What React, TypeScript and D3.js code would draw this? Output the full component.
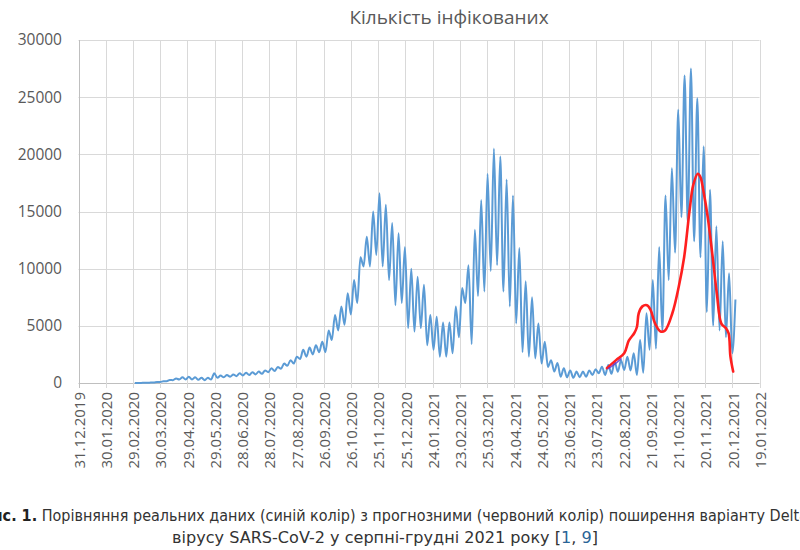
import React from 'react';
import * as d3 from 'd3';

// ---- Data -------------------------------------------------------------
const chartTitle = 'Кількість інфікованих';
const yTicks = [0, 5000, 10000, 15000, 20000, 25000, 30000];
const xTickLabels = [
  '31.12.2019', '30.01.2020', '29.02.2020', '30.03.2020', '29.04.2020', '29.05.2020',
  '28.06.2020', '28.07.2020', '27.08.2020', '26.09.2020', '26.10.2020', '25.11.2020',
  '25.12.2020', '24.01.2021', '23.02.2021', '25.03.2021', '24.04.2021', '24.05.2021',
  '23.06.2021', '23.07.2021', '22.08.2021', '21.09.2021', '21.10.2021', '20.11.2021',
  '20.12.2021', '19.01.2022',
];

// Real data (blue): weekly reporting cycle, one low (start of week) and one high per week
const firstWeek = '2020-03-02';
const weeklyLows = [
  0, 5, 20, 50, 90, 150, 250, 300, 300, 300,
  280, 250, 300, 450, 500, 550, 600, 650, 700, 750,
  800, 950, 1050, 1250, 1500, 1700, 2100, 2300, 2500, 2700,
  2700, 3760, 4600, 5100, 6000, 7000, 10200, 10200, 11200, 10200,
  9000, 6800, 7000, 4800, 4500, 4800, 3300, 2900, 2300, 2300,
  2600, 4000, 7000, 3400, 7600, 8000, 9800, 10300, 8000, 6700,
  5200, 2700, 2300, 2150, 1700, 1400, 1000, 550, 500, 450,
  500, 550, 700, 850, 700, 800, 990, 1140, 1100, 700,
  900, 2900, 3000, 4500, 9000, 11400, 14500, 14000, 12400, 11000,
  6200, 5000, 4600, 4000, 2600,
];
const weeklyHighs = [
  10, 20, 40, 90, 150, 260, 400, 500, 550, 500,
  450, 460, 850, 650, 700, 750, 850, 900, 950, 1000,
  1100, 1300, 1400, 1700, 2000, 2300, 2900, 3100, 3300, 3600,
  4600, 5950, 6700, 7850, 9000, 11000, 12800, 15000, 16600, 15600,
  14000, 13100, 11900, 10000, 9300, 8600, 5950, 5800, 5300, 5300,
  6700, 8300, 10300, 13400, 16000, 18300, 20500, 19800, 17800, 16400,
  11800, 8900, 7500, 5200, 3600, 2000, 1750, 1300, 1100, 1000,
  1000, 1100, 1200, 1430, 1570, 1860, 2000, 2300, 2600, 3760,
  6100, 9000, 11900, 16400, 18800, 23900, 26900, 27500, 24900, 20700,
  16900, 13700, 12400, 9600, 7300,
];

// Forecast (red)
const forecastDates = [
  '2021-08-04', '2021-08-14', '2021-08-23', '2021-08-28', '2021-09-03', '2021-09-06',
  '2021-09-08', '2021-09-12', '2021-09-17', '2021-09-21', '2021-09-26', '2021-10-02',
  '2021-10-07', '2021-10-15', '2021-10-22', '2021-10-28', '2021-11-03', '2021-11-07',
  '2021-11-12', '2021-11-15', '2021-11-18', '2021-11-23', '2021-11-28', '2021-12-03',
  '2021-12-08', '2021-12-13', '2021-12-16', '2021-12-18', '2021-12-21',
];
const forecastValues = [
  1300, 2000, 2600, 3700, 4350, 4900,
  6100, 6700, 6800, 6400, 5200, 4500,
  4600, 6100, 8400, 11000, 15100, 17300,
  18300, 18000, 16900, 14500, 11300, 7850,
  5200, 4800, 4350, 2300, 1000,
];

// short overlap segment (purple)
const overlapDates = ['2021-08-05', '2021-08-10', '2021-08-15', '2021-08-20'];
const overlapValues = [1250, 1500, 1800, 2150];

const captionLine1Bold = 'Рис. 1.';
const captionLine1 = ' Порівняння реальних даних (синій колір) з прогнозними (червоний колір) поширення варіанту Delta';
const captionLine2a = 'вірусу SARS-CoV-2 у серпні-грудні 2021 року [';
const captionRef1 = '1';
const captionRef2 = '9';

// ---- Component --------------------------------------------------------
const parseTick = d3.utcParse('%d.%m.%Y');
const parseIso = d3.utcParse('%Y-%m-%d');
const DAY = 86400000;

export default function App() {
  const W = 800, H = 550;
  const left = 78.5, right = 759.5, top = 40, bottom = 383;
  const tickDates = xTickLabels.map((s) => parseTick(s) as Date);

  const x = d3.scaleUtc().domain([tickDates[0], tickDates[tickDates.length - 1]]).range([left, right]);
  const y = d3.scaleLinear().domain([0, 30000]).range([bottom, top]);

  const start = (parseIso(firstWeek) as Date).getTime();
  const blue: [Date, number][] = [];
  weeklyLows.forEach((lo, i) => {
    blue.push([new Date(start + i * 7 * DAY), lo]);
    blue.push([new Date(start + (i * 7 + 3.5) * DAY), weeklyHighs[i]]);
  });
  const red: [Date, number][] = forecastDates.map((d, i) => [parseIso(d) as Date, forecastValues[i]]);
  const purple: [Date, number][] = overlapDates.map((d, i) => [parseIso(d) as Date, overlapValues[i]]);

  const line = d3
    .line<[Date, number]>()
    .x((d) => x(d[0]))
    .y((d) => y(d[1]))
    .curve(d3.curveMonotoneX);
  const smooth = d3
    .line<[Date, number]>()
    .x((d) => x(d[0]))
    .y((d) => y(d[1]))
    .curve(d3.curveCatmullRom.alpha(0.5));

  const font = "'Open Sans', 'Noto Sans', sans-serif";
  const narrow = "'Liberation Sans Narrow', 'Arial Narrow', 'DejaVu Sans Condensed', 'Roboto', sans-serif";
  const grid = '#d9d9d9';
  const axisText = '#595959';

  return (
    <svg width={W} height={H} style={{ position: 'absolute', left: 0, top: 0, background: '#fff' }}>
      <rect x={0} y={0} width={W} height={H} fill="#fff" />
      <text x={449} y={24} textAnchor="middle" fontFamily={font} fontSize={19} fontWeight={500}
        fill={axisText}>
        {chartTitle}
      </text>

      {/* horizontal grid */}
      {yTicks.map((t) => (
        <line key={'h' + t} x1={left} x2={right} y1={Math.round(y(t)) + 0.5} y2={Math.round(y(t)) + 0.5}
          stroke={t === 0 ? '#bfbfbf' : grid} strokeWidth={1} />
      ))}
      {/* vertical grid + ticks */}
      {tickDates.map((d, i) => {
        const px = Math.round(x(d)) + 0.5;
        return (
          <line key={'v' + i} x1={px} x2={px} y1={top} y2={bottom + 5}
            stroke={i === 0 ? '#bfbfbf' : grid} strokeWidth={1} />
        );
      })}

      {/* y labels */}
      {yTicks.map((t) => (
        <text key={'yl' + t} x={62} y={y(t)} dy="0.35em" textAnchor="end" fontFamily={font}
          fontSize={15.5} fill={axisText}>
          {t}
        </text>
      ))}
      {/* x labels */}
      {tickDates.map((d, i) => (
        <text key={'xl' + i} transform={`translate(${x(d) + 1},${bottom + 9}) rotate(-90)`}
          dy="0.35em" textAnchor="end" fontFamily={font} fontSize={15} fill={axisText}>
          {xTickLabels[i]}
        </text>
      ))}

      {/* series */}
      <path d={line(blue) || ''} fill="none" stroke="#5b9bd5" strokeWidth={2} strokeLinejoin="round" />
      <path d={smooth(red) || ''} fill="none" stroke="#ff1f1f" strokeWidth={2.6} strokeLinejoin="round"
        strokeLinecap="round" />
      <path d={smooth(purple) || ''} fill="none" stroke="#6a2fc8" strokeWidth={1.6} strokeOpacity={0.8} />

      {/* caption */}
      <text x={-18} y={521} fontFamily={narrow} fontSize={15} fill="#333" textLength={826}
        lengthAdjust="spacingAndGlyphs">
        <tspan fontWeight="bold" fill="#222">{captionLine1Bold}</tspan>
        <tspan>{captionLine1}</tspan>
      </text>
      <text x={172} y={543} fontFamily={narrow} fontSize={15} fill="#333" textLength={426}
        lengthAdjust="spacingAndGlyphs">
        <tspan>{captionLine2a}</tspan>
        <tspan fill="#2a6496">{captionRef1}</tspan>
        <tspan>, </tspan>
        <tspan fill="#2a6496">{captionRef2}</tspan>
        <tspan>]</tspan>
      </text>
    </svg>
  );
}
